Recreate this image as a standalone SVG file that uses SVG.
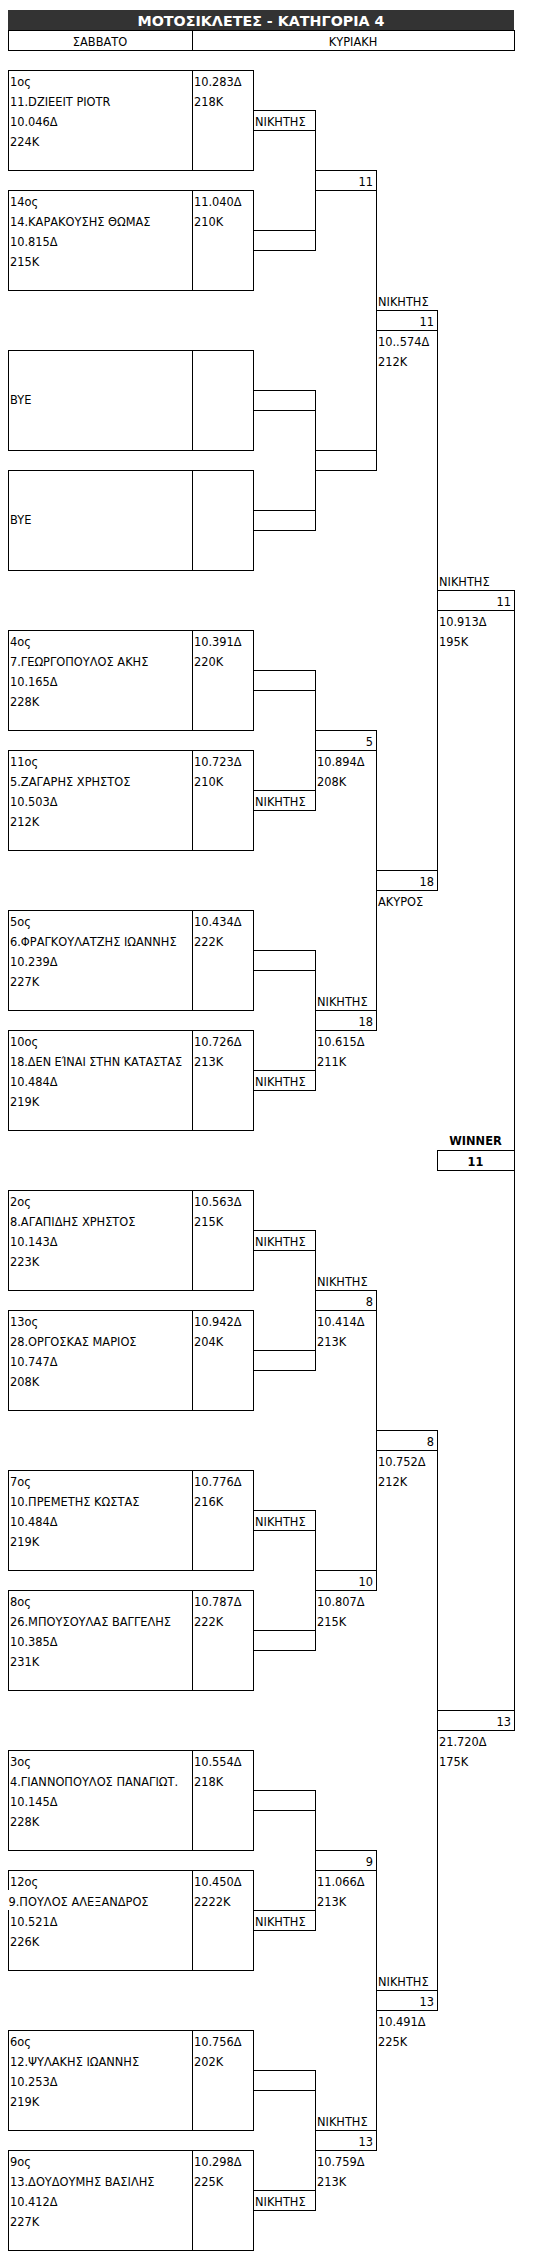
<svg xmlns="http://www.w3.org/2000/svg" width="544" height="2259" viewBox="0 0 544 2259">
<style>
.t{font-family:"DejaVu Sans","Noto Sans",sans-serif;font-size:11.4px;fill:#000}
.r{text-anchor:end}
.c{text-anchor:middle}
.b{font-weight:bold}
.ln{stroke:#000;stroke-width:1;fill:none;shape-rendering:crispEdges}
.bx{stroke:#000;stroke-width:1;fill:#fff;shape-rendering:crispEdges}
</style>
<rect width="544" height="2259" fill="#fff"/>
<g id="title">
<rect x="8" y="10" width="506" height="20" fill="#333333"/>
<text x="261" y="26" class="t c b" style="font-size:14px;fill:#fff" textLength="247" lengthAdjust="spacingAndGlyphs">ΜΟΤΟΣΙΚΛΕΤΕΣ - ΚΑΤΗΓΟΡΙΑ 4</text>
</g>
<g id="header">
<rect x="8" y="30" width="506" height="20" class="bx"/>
<line x1="192" y1="30" x2="192" y2="50" class="ln"/>
<text x="100" y="46" class="t c">ΣΑΒΒΑΤΟ</text>
<text x="353" y="46" class="t c">ΚΥΡΙΑΚΗ</text>
</g>
<g id="connectors">
<path class="ln" d="M253 110H315V250H253M253 130H315M253 230H315"/>
<path class="ln" d="M253 390H315V530H253M253 410H315M253 510H315"/>
<path class="ln" d="M253 670H315V810H253M253 690H315M253 790H315"/>
<path class="ln" d="M253 950H315V1090H253M253 970H315M253 1070H315"/>
<path class="ln" d="M253 1230H315V1370H253M253 1250H315M253 1350H315"/>
<path class="ln" d="M253 1510H315V1650H253M253 1530H315M253 1630H315"/>
<path class="ln" d="M253 1790H315V1930H253M253 1810H315M253 1910H315"/>
<path class="ln" d="M253 2070H315V2210H253M253 2090H315M253 2190H315"/>
<path class="ln" d="M315 170H376V470H315M315 190H376M315 450H376"/>
<path class="ln" d="M315 730H376V1030H315M315 750H376M315 1010H376"/>
<path class="ln" d="M315 1290H376V1590H315M315 1310H376M315 1570H376"/>
<path class="ln" d="M315 1850H376V2150H315M315 1870H376M315 2130H376"/>
<path class="ln" d="M376 310H437V890H376M376 330H437M376 870H437"/>
<path class="ln" d="M376 1430H437V2010H376M376 1450H437M376 1990H437"/>
<path class="ln" d="M437 590H514V1730H437M437 610H514M437 1710H514"/>
</g>
<g id="box1">
<path class="ln" d="M8 70H253V170H8ZM192 70V170"/>
<text class="t" x="10" y="86">1ος</text><text class="t" x="10" y="106">11.DZIEEIT PIOTR</text><text class="t" x="10" y="126">10.046Δ</text><text class="t" x="10" y="146">224K</text>
<text class="t" x="194" y="86">10.283Δ</text><text class="t" x="194" y="106">218K</text>
</g>
<g id="box2">
<path class="ln" d="M8 190H253V290H8ZM192 190V290"/>
<text class="t" x="10" y="206">14ος</text><text class="t" x="10" y="226">14.ΚΑΡΑΚΟΥΣΗΣ ΘΩΜΑΣ</text><text class="t" x="10" y="246">10.815Δ</text><text class="t" x="10" y="266">215K</text>
<text class="t" x="194" y="206">11.040Δ</text><text class="t" x="194" y="226">210K</text>
</g>
<g id="box3">
<path class="ln" d="M8 350H253V450H8ZM192 350V450"/>
<text class="t" x="10" y="404">BYE</text>
</g>
<g id="box4">
<path class="ln" d="M8 470H253V570H8ZM192 470V570"/>
<text class="t" x="10" y="524">BYE</text>
</g>
<g id="box5">
<path class="ln" d="M8 630H253V730H8ZM192 630V730"/>
<text class="t" x="10" y="646">4ος</text><text class="t" x="10" y="666">7.ΓΕΩΡΓΟΠΟΥΛΟΣ ΑΚΗΣ</text><text class="t" x="10" y="686">10.165Δ</text><text class="t" x="10" y="706">228K</text>
<text class="t" x="194" y="646">10.391Δ</text><text class="t" x="194" y="666">220K</text>
</g>
<g id="box6">
<path class="ln" d="M8 750H253V850H8ZM192 750V850"/>
<text class="t" x="10" y="766">11ος</text><text class="t" x="10" y="786">5.ΖΑΓΑΡΗΣ ΧΡΗΣΤΟΣ</text><text class="t" x="10" y="806">10.503Δ</text><text class="t" x="10" y="826">212K</text>
<text class="t" x="194" y="766">10.723Δ</text><text class="t" x="194" y="786">210K</text>
</g>
<g id="box7">
<path class="ln" d="M8 910H253V1010H8ZM192 910V1010"/>
<text class="t" x="10" y="926">5ος</text><text class="t" x="10" y="946">6.ΦΡΑΓΚΟΥΛΑΤΖΗΣ ΙΩΑΝΝΗΣ</text><text class="t" x="10" y="966">10.239Δ</text><text class="t" x="10" y="986">227K</text>
<text class="t" x="194" y="926">10.434Δ</text><text class="t" x="194" y="946">222K</text>
</g>
<g id="box8">
<path class="ln" d="M8 1030H253V1130H8ZM192 1030V1130"/>
<text class="t" x="10" y="1046">10ος</text><text class="t" x="10" y="1066" textLength="172" lengthAdjust="spacingAndGlyphs">18.ΔΕΝ ΕΊΝΑΙ ΣΤΗΝ ΚΑΤΑΣΤΑΣ</text><text class="t" x="10" y="1086">10.484Δ</text><text class="t" x="10" y="1106">219K</text>
<text class="t" x="194" y="1046">10.726Δ</text><text class="t" x="194" y="1066">213K</text>
</g>
<g id="box9">
<path class="ln" d="M8 1190H253V1290H8ZM192 1190V1290"/>
<text class="t" x="10" y="1206">2ος</text><text class="t" x="10" y="1226">8.ΑΓΑΠΙΔΗΣ ΧΡΗΣΤΟΣ</text><text class="t" x="10" y="1246">10.143Δ</text><text class="t" x="10" y="1266">223K</text>
<text class="t" x="194" y="1206">10.563Δ</text><text class="t" x="194" y="1226">215K</text>
</g>
<g id="box10">
<path class="ln" d="M8 1310H253V1410H8ZM192 1310V1410"/>
<text class="t" x="10" y="1326">13ος</text><text class="t" x="10" y="1346">28.ΟΡΓΟΣΚΑΣ ΜΑΡΙΟΣ</text><text class="t" x="10" y="1366">10.747Δ</text><text class="t" x="10" y="1386">208K</text>
<text class="t" x="194" y="1326">10.942Δ</text><text class="t" x="194" y="1346">204K</text>
</g>
<g id="box11">
<path class="ln" d="M8 1470H253V1570H8ZM192 1470V1570"/>
<text class="t" x="10" y="1486">7ος</text><text class="t" x="10" y="1506">10.ΠΡΕΜΕΤΗΣ ΚΩΣΤΑΣ</text><text class="t" x="10" y="1526">10.484Δ</text><text class="t" x="10" y="1546">219K</text>
<text class="t" x="194" y="1486">10.776Δ</text><text class="t" x="194" y="1506">216K</text>
</g>
<g id="box12">
<path class="ln" d="M8 1590H253V1690H8ZM192 1590V1690"/>
<text class="t" x="10" y="1606">8ος</text><text class="t" x="10" y="1626">26.ΜΠΟΥΣΟΥΛΑΣ ΒΑΓΓΕΛΗΣ</text><text class="t" x="10" y="1646">10.385Δ</text><text class="t" x="10" y="1666">231K</text>
<text class="t" x="194" y="1606">10.787Δ</text><text class="t" x="194" y="1626">222K</text>
</g>
<g id="box13">
<path class="ln" d="M8 1750H253V1850H8ZM192 1750V1850"/>
<text class="t" x="10" y="1766">3ος</text><text class="t" x="10" y="1786">4.ΓΙΑΝΝΟΠΟΥΛΟΣ ΠΑΝΑΓΙΩΤ.</text><text class="t" x="10" y="1806">10.145Δ</text><text class="t" x="10" y="1826">228K</text>
<text class="t" x="194" y="1766">10.554Δ</text><text class="t" x="194" y="1786">218K</text>
</g>
<g id="box14">
<path class="ln" d="M8 1890V1870H253V1970H8V1910M192 1870V1970"/>
<text class="t" x="10" y="1886">12ος</text><text class="t" x="8.5" y="1906">9.ΠΟΥΛΟΣ ΑΛΕΞΑΝΔΡΟΣ</text><text class="t" x="10" y="1926">10.521Δ</text><text class="t" x="10" y="1946">226K</text>
<text class="t" x="194" y="1886">10.450Δ</text><text class="t" x="194" y="1906">2222K</text>
</g>
<g id="box15">
<path class="ln" d="M8 2030H253V2130H8ZM192 2030V2130"/>
<text class="t" x="10" y="2046">6ος</text><text class="t" x="10" y="2066">12.ΨΥΛΑΚΗΣ ΙΩΑΝΝΗΣ</text><text class="t" x="10" y="2086">10.253Δ</text><text class="t" x="10" y="2106">219K</text>
<text class="t" x="194" y="2046">10.756Δ</text><text class="t" x="194" y="2066">202K</text>
</g>
<g id="box16">
<path class="ln" d="M8 2150H253V2250H8ZM192 2150V2250"/>
<text class="t" x="10" y="2166">9ος</text><text class="t" x="10" y="2186">13.ΔΟΥΔΟΥΜΗΣ ΒΑΣΙΛΗΣ</text><text class="t" x="10" y="2206">10.412Δ</text><text class="t" x="10" y="2226">227K</text>
<text class="t" x="194" y="2166">10.298Δ</text><text class="t" x="194" y="2186">225K</text>
</g>
<g id="round1-labels">
<text class="t" x="255" y="126">ΝΙΚΗΤΗΣ</text>
<text class="t" x="255" y="806">ΝΙΚΗΤΗΣ</text>
<text class="t" x="255" y="1086">ΝΙΚΗΤΗΣ</text>
<text class="t" x="255" y="1246">ΝΙΚΗΤΗΣ</text>
<text class="t" x="255" y="1526">ΝΙΚΗΤΗΣ</text>
<text class="t" x="255" y="1926">ΝΙΚΗΤΗΣ</text>
<text class="t" x="255" y="2206">ΝΙΚΗΤΗΣ</text>
</g>
<g id="round2">
<text class="t r" x="373" y="186">11</text>
<text class="t r" x="373" y="746">5</text><text class="t" x="317" y="766">10.894Δ</text><text class="t" x="317" y="786">208K</text>
<text class="t" x="317" y="1006">ΝΙΚΗΤΗΣ</text><text class="t r" x="373" y="1026">18</text><text class="t" x="317" y="1046">10.615Δ</text><text class="t" x="317" y="1066">211K</text>
<text class="t" x="317" y="1286">ΝΙΚΗΤΗΣ</text><text class="t r" x="373" y="1306">8</text><text class="t" x="317" y="1326">10.414Δ</text><text class="t" x="317" y="1346">213K</text>
<text class="t r" x="373" y="1586">10</text><text class="t" x="317" y="1606">10.807Δ</text><text class="t" x="317" y="1626">215K</text>
<text class="t r" x="373" y="1866">9</text><text class="t" x="317" y="1886">11.066Δ</text><text class="t" x="317" y="1906">213K</text>
<text class="t" x="317" y="2126">ΝΙΚΗΤΗΣ</text><text class="t r" x="373" y="2146">13</text><text class="t" x="317" y="2166">10.759Δ</text><text class="t" x="317" y="2186">213K</text>
</g>
<g id="round3">
<text class="t" x="378" y="306">ΝΙΚΗΤΗΣ</text><text class="t r" x="434" y="326">11</text><text class="t" x="378" y="346">10..574Δ</text><text class="t" x="378" y="366">212K</text>
<text class="t r" x="434" y="886">18</text><text class="t" x="378" y="906">ΑΚΥΡΟΣ</text>
<text class="t r" x="434" y="1446">8</text><text class="t" x="378" y="1466">10.752Δ</text><text class="t" x="378" y="1486">212K</text>
<text class="t" x="378" y="1986">ΝΙΚΗΤΗΣ</text><text class="t r" x="434" y="2006">13</text><text class="t" x="378" y="2026">10.491Δ</text><text class="t" x="378" y="2046">225K</text>
</g>
<g id="final">
<text class="t" x="439" y="586">ΝΙΚΗΤΗΣ</text><text class="t r" x="511" y="606">11</text><text class="t" x="439" y="626">10.913Δ</text><text class="t" x="439" y="646">195K</text>
<text class="t r" x="511" y="1726">13</text><text class="t" x="439" y="1746">21.720Δ</text><text class="t" x="439" y="1766">175K</text>
</g>
<g id="winner">
<text class="t c b" x="475.5" y="1145">WINNER</text>
<rect x="437" y="1150" width="77" height="20" class="bx"/>
<text class="t c b" x="475.5" y="1166">11</text>
</g>
</svg>
